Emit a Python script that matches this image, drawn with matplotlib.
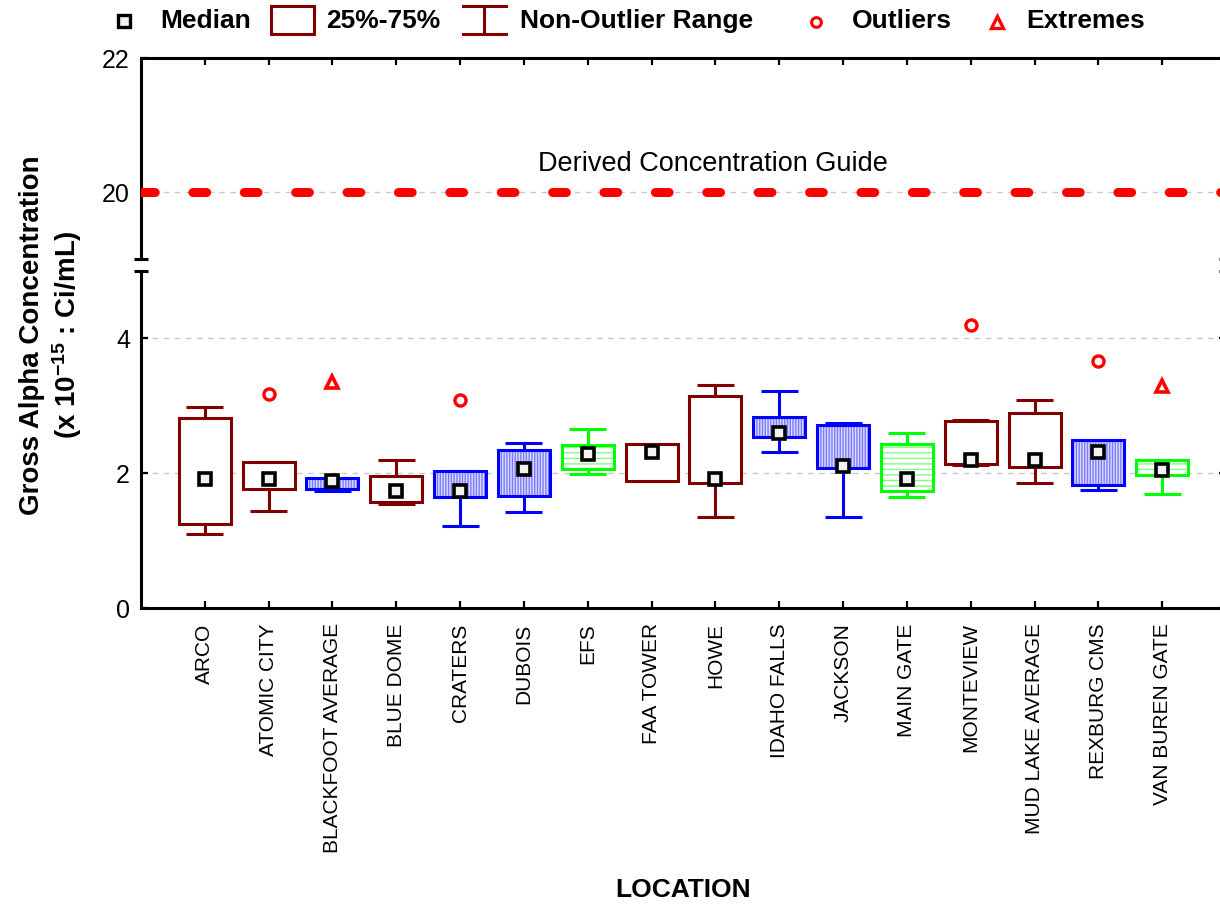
import matplotlib
matplotlib.use("Agg")
import matplotlib.pyplot as plt
from matplotlib.patches import Rectangle
from matplotlib.lines import Line2D
import numpy as np

plt.rcParams['font.family'] = ['Liberation Sans', 'DejaVu Sans']
plt.rcParams['mathtext.fontset'] = 'custom'
plt.rcParams['mathtext.rm'] = 'Liberation Sans:bold'
plt.rcParams['mathtext.it'] = 'Liberation Sans:bold'
plt.rcParams['mathtext.bf'] = 'Liberation Sans:bold'
plt.rcParams['lines.scale_dashes'] = False
plt.rcParams['hatch.linewidth'] = 1.0

# ---------------- data ----------------
locations = ["ARCO", "ATOMIC CITY", "BLACKFOOT AVERAGE", "BLUE DOME", "CRATERS",
             "DUBOIS", "EFS", "FAA TOWER", "HOWE", "IDAHO FALLS", "JACKSON",
             "MAIN GATE", "MONTEVIEW", "MUD LAKE AVERAGE", "REXBURG CMS",
             "VAN BUREN GATE"]
medians = [1.92, 1.92, 1.88, 1.74, 1.74, 2.06, 2.28, 2.32, 1.92, 2.59, 2.10,
           1.92, 2.19, 2.19, 2.32, 2.05]
q1 = [1.24, 1.76, 1.77, 1.57, 1.64, 1.66, 2.06, 1.89, 1.86, 2.53, 2.08,
      1.74, 2.13, 2.09, 1.82, 1.97]
q3 = [2.82, 2.16, 1.93, 1.96, 2.04, 2.34, 2.42, 2.43, 3.15, 2.83, 2.71,
      2.44, 2.78, 2.90, 2.49, 2.20]
whis_lo = [1.10, 1.44, 1.74, 1.54, 1.22, 1.42, 1.99, 1.89, 1.35, 2.31, 1.35,
           1.64, 2.12, 1.86, 1.75, 1.69]
whis_hi = [2.98, 2.16, 1.93, 2.19, 2.04, 2.45, 2.65, 2.43, 3.31, 3.22, 2.75,
           2.60, 2.79, 3.09, 2.49, 2.20]
outlier_locs = ["ATOMIC CITY", "CRATERS", "MONTEVIEW", "REXBURG CMS"]
outlier_vals = [3.17, 3.08, 4.20, 3.67]
extreme_locs = ["BLACKFOOT AVERAGE", "VAN BUREN GATE"]
extreme_vals = [3.35, 3.30]
box_group = ["red", "red", "blue", "red", "blue", "blue", "green", "red",
             "red", "blue", "blue", "green", "red", "red", "blue", "green"]
dcg_value = 20
lower_ticks = [0, 2, 4]
upper_ticks = [20, 22]

# ---------------- styles ----------------
DARKRED = "#800000"
styles = {
    "red":   dict(edge=DARKRED, face="white", hatch=None, hatchcol=None),
    "blue":  dict(edge="#0000ff", face="#dcdcff", hatch="||||||", hatchcol="#7a7aff"),
    "green": dict(edge="#00ff00", face="white", hatch="---", hatchcol="#80ff80"),
}

W, H = 1220, 905
fig = plt.figure(figsize=(W / 100, H / 100), dpi=100)


def px(l, t, r, b):
    return [l / W, 1 - b / H, (r - l) / W, (b - t) / H]


ax_up = fig.add_axes(px(141, 58, 1226, 259))
ax_lo = fig.add_axes(px(141, 271, 1226, 608))

xpos = np.arange(len(locations))
for ax in (ax_up, ax_lo):
    ax.set_xlim(-1, len(locations))
    ax.set_xticks(xpos)
    ax.yaxis.grid(True, color="#c8c8c8", linestyle=(0, (4, 4)), lw=1.0)
    ax.set_axisbelow(True)
    for s in ax.spines.values():
        s.set_linewidth(2.2)

ax_up.set_ylim(19, 22)
ax_lo.set_ylim(0, 5)
ax_up.set_yticks(upper_ticks)
ax_lo.set_yticks(lower_ticks)

ax_up.spines["bottom"].set_visible(False)
ax_lo.spines["top"].set_visible(False)

ax_up.tick_params(axis="x", which="both", bottom=False, top=True, labelbottom=False,
                  direction="in", length=5, width=1.6)
ax_lo.tick_params(axis="x", direction="in", length=5, width=1.6, labelsize=15,
                  pad=11, labelrotation=90)
for ax in (ax_up, ax_lo):
    ax.tick_params(axis="y", direction="in", length=5, width=1.6, labelsize=18,
                   pad=8, right=True)
ax_lo.set_xticklabels(locations)

# break marks
for ax, yy in ((ax_up, 0), (ax_lo, 1)):
    for xx in (0, 1):
        ax.plot([xx - 0.0065, xx + 0.0065], [yy, yy], transform=ax.transAxes,
                color="black", lw=2.2, clip_on=False, solid_capstyle="butt")

# derived concentration guide
dcg = ax_up.axhline(dcg_value, color="red", lw=6.5, dash_capstyle="round", zorder=3)
dcg.set_dashes((9.9, 27.1))
ax_up.text(0.527, dcg_value + 0.42, "Derived Concentration Guide",
           transform=ax_up.get_yaxis_transform(),
           ha="center", va="center", fontsize=19.5)

# boxes
bw, cw = 0.815, 0.58
for i, x in enumerate(xpos):
    st = styles[box_group[i]]
    fill = Rectangle((x - bw / 2, q1[i]), bw, q3[i] - q1[i], facecolor=st["face"],
                     edgecolor=st["hatchcol"] if st["hatch"] else "none",
                     hatch=st["hatch"], lw=0, zorder=2)
    ax_lo.add_patch(fill)
    ax_lo.add_patch(Rectangle((x - bw / 2, q1[i]), bw, q3[i] - q1[i], fill=False,
                              edgecolor=st["edge"], lw=2.2, zorder=3,
                              joinstyle="miter"))
    ax_lo.plot([x, x], [q3[i], whis_hi[i]], color=st["edge"], lw=2.2, zorder=3)
    ax_lo.plot([x, x], [whis_lo[i], q1[i]], color=st["edge"], lw=2.2, zorder=3)
    ax_lo.plot([x - cw / 2, x + cw / 2], [whis_hi[i]] * 2, color=st["edge"], lw=2.2,
               zorder=3, solid_capstyle="butt")
    ax_lo.plot([x - cw / 2, x + cw / 2], [whis_lo[i]] * 2, color=st["edge"], lw=2.2,
               zorder=3, solid_capstyle="butt")

ax_lo.plot(xpos, medians, ls="none", marker="s", ms=9, mew=2.6, mfc="#f2f2f2",
           mec="black", zorder=5)
ax_lo.plot([locations.index(n) for n in outlier_locs], outlier_vals, ls="none",
           marker="o", ms=8, mew=2.4, mfc="white", mec="red", zorder=5)
ax_lo.plot([locations.index(n) for n in extreme_locs], extreme_vals, ls="none",
           marker="^", ms=9, mew=2.6, mfc="white", mec="red", zorder=5)

# axis labels
fig.text(32 / W, 1 - 335 / H, "Gross Alpha Concentration", rotation=90,
         ha="center", va="center", fontsize=20, fontweight="bold")
fig.text(67 / W, 1 - 335 / H, r"(x 10$^{-15}$ : Ci/mL)", rotation=90,
         ha="center", va="center", fontsize=20, fontweight="bold")
fig.text(683 / W, 1 - 890 / H, "LOCATION", ha="center", va="center",
         fontsize=19, fontweight="bold")

# legend (manual, figure pixel coords)
def fx(p):
    return p / W


def fy(p):
    return 1 - p / H


ly = 21
LFS = 19
fig.add_artist(Line2D([fx(124)], [fy(ly)], marker="s", ms=8, mew=2.4, mfc="#f2f2f2",
                      mec="black", ls="none"))
fig.text(fx(160), fy(ly), "Median", ha="left", va="center", fontsize=LFS,
         fontweight="bold")
fig.add_artist(Rectangle((fx(271), fy(34)), (314 - 271) / W, (34 - 6) / H,
                         fill=False, edgecolor=DARKRED, lw=2.2,
                         transform=fig.transFigure))
fig.text(fx(326), fy(ly), "25%-75%", ha="left", va="center", fontsize=LFS,
         fontweight="bold")
fig.add_artist(Line2D([fx(484), fx(484)], [fy(6), fy(34)], color=DARKRED, lw=2.2))
fig.add_artist(Line2D([fx(463), fx(506)], [fy(6), fy(6)], color=DARKRED, lw=2.2))
fig.add_artist(Line2D([fx(463), fx(506)], [fy(34), fy(34)], color=DARKRED, lw=2.2))
fig.text(fx(520), fy(ly), "Non-Outlier Range", ha="left", va="center", fontsize=LFS,
         fontweight="bold")
fig.add_artist(Line2D([fx(816)], [fy(22)], marker="o", ms=7, mew=2.2, mfc="white",
                      mec="red", ls="none"))
fig.text(fx(852), fy(ly), "Outliers", ha="left", va="center", fontsize=LFS,
         fontweight="bold")
fig.add_artist(Line2D([fx(997)], [fy(22)], marker="^", ms=8, mew=2.4, mfc="white",
                      mec="red", ls="none"))
fig.text(fx(1026), fy(ly), "Extremes", ha="left", va="center", fontsize=LFS,
         fontweight="bold")

fig.savefig("out.png", dpi=100)
